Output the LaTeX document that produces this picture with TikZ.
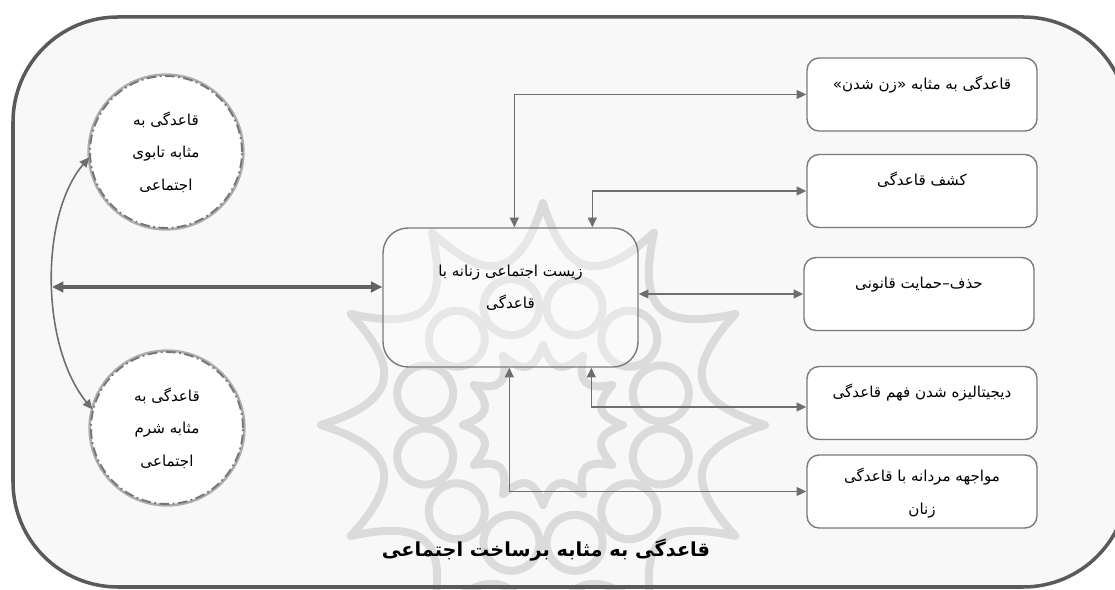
\documentclass[tikz,border=0pt]{standalone}
\usepackage{fontspec}
\TeXXeTstate=1
\newfontfamily\fafont[Script=Arabic]{DejaVu Sans}
\usetikzlibrary{arrows.meta,shadows,calc}
\definecolor{bgfill}{HTML}{F8F8F8}
\definecolor{framecol}{HTML}{5A5A5A}
\definecolor{conncol}{HTML}{6E6E6E}
\definecolor{wmcol}{HTML}{DBDBDB}
\definecolor{boxline}{HTML}{7A7A7A}
\definecolor{circline}{HTML}{777777}
\begin{document}
\begin{tikzpicture}[x=0.02cm,y=-0.02cm,
  font=\fafont\fontsize{8.6}{18.5}\selectfont,
  rbox/.style={draw=boxline, line width=0.8pt, fill=white, rounded corners=0.24cm,
    minimum width=4.6cm, minimum height=1.46cm, inner sep=0pt},
  cbox/.style={draw=boxline, line width=0.8pt, fill=white, fill opacity=0.35,
    rounded corners=0.5cm, minimum width=5.1cm, minimum height=2.78cm, inner sep=0pt},
  circ/.style={circle, draw=circline, line width=1.1pt,
    dash pattern=on 5.5pt off 2pt on 1pt off 2pt, fill=white,
    minimum size=3.04cm, inner sep=0pt, align=center,
    drop shadow={shadow scale=1.035, shadow xshift=0pt, shadow yshift=0pt, opacity=0.3, fill=black}},
  link/.style={draw=conncol, line width=0.9pt,
    arrows={Triangle[length=5.5pt,width=5pt]-Triangle[length=5.5pt,width=5pt]}},
  biglink/.style={draw=conncol!90!black, line width=1.8pt,
    arrows={Triangle[length=6.5pt,width=6pt]-Triangle[length=6.5pt,width=6pt]}},
  wm/.style={draw=wmcol, line width=0.16cm, line join=round},
  ttl/.style={font=\fafont\bfseries\fontsize{11}{13}\selectfont}
]
\useasboundingbox (0,0) rectangle (1115,590);
% background frame fill
\fill[bgfill, rounded corners=2.1cm] (13,17) rectangle (1128,587);
% watermark
\begin{scope}[shift={(543,425)}]
  \draw[wm] (90:222) \foreach \k in {0,...,11}{ .. controls ({90+30*\k+9}:150) and ({90+30*\k+21}:150) .. ({120+30*\k}:222) } -- cycle;
  \foreach \k in {0,...,11} \draw[wm] ({105+30*\k}:122) circle (0.56cm);
  \draw[wm] (90:80) \foreach \k in {0,...,11}{ .. controls ({90+30*\k+10}:55) and ({90+30*\k+20}:55) .. ({120+30*\k}:80) } -- cycle;
\end{scope}
% outer frame
\draw[framecol, line width=2pt, rounded corners=2.1cm] (13,17) rectangle (1128,587);
% circles
\node[circ] (c1) at (166,152) {\beginR قاعدگی به\endR\\\beginR مثابه تابوی\endR\\\beginR اجتماعی\endR};
\node[circ] (c2) at (167,428) {\beginR قاعدگی به\endR\\\beginR مثابه شرم\endR\\\beginR اجتماعی\endR};
% center box
\node[cbox] (ctr) at (510.5,297.5) {};
\node[align=center, yshift=5.4pt] (ctrt) at (ctr.center) {\beginR زیست اجتماعی زنانه با\endR\\\beginR قاعدگی\endR};
% right boxes
\node[rbox, label={[yshift=5.4pt]center:{\beginR قاعدگی به مثابه «زن شدن»\endR}}] (b1) at (922,94.5) {};
\node[rbox, label={[yshift=6.2pt]center:{\beginR کشف قاعدگی\endR}}] (b2) at (922,191) {};
\node[rbox, label={[yshift=5.1pt]center:{\beginR حذف–حمایت قانونی\endR}}] (b3) at (919,294) {};
\node[rbox, label={[yshift=6.2pt]center:{\beginR دیجیتالیزه شدن فهم قاعدگی\endR}}] (b4) at (922,403) {};
\node[rbox, label={[align=center, yshift=-1pt]center:{\beginR مواجهه مردانه با قاعدگی\endR\\\beginR زنان\endR}}] (b5) at (922,491.5) {};
% connectors
\draw[link] (c1.184) .. controls (40,215) and (40,345) .. (c2.166);
\coordinate (hl) at (52,287);
\draw[biglink] (hl) -- (hl -| ctr.west);
\draw[link] (b1.west) -| ($(ctr.north west)+(132,0)$);
\draw[link] (b2.west) -| ($(ctr.north west)+(210,0)$);
\draw[link] (b3.west) -- (b3.west -| ctr.east);
\draw[link] ($(b4.west)+(0,4)$) -| ($(ctr.south west)+(209,0)$);
\draw[link] (b5.west) -| ($(ctr.south west)+(127,0)$);
% title
\node[ttl] (title) at (546,550) {\beginR قاعدگی به مثابه برساخت اجتماعی\endR};
\end{tikzpicture}
\end{document}
